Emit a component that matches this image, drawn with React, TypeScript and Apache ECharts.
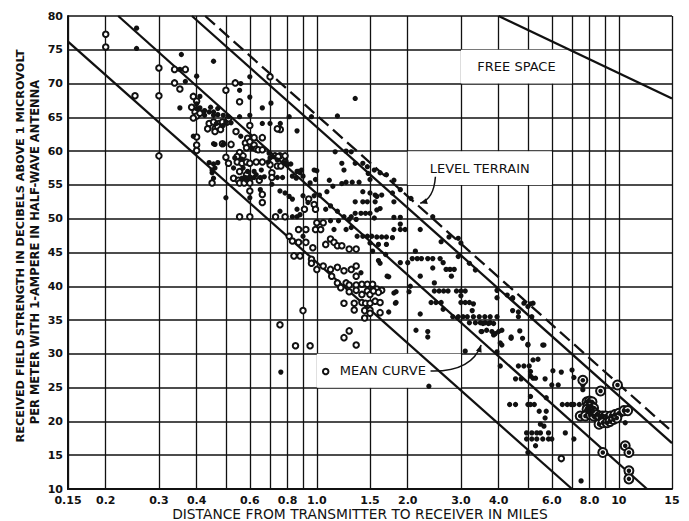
import React, { useEffect, useRef } from "react";
import * as echarts from "echarts";

// ---------- axes ----------
const xLabelValues = [0.15, 0.2, 0.3, 0.4, 0.6, 0.8, 1, 1.5, 2, 3, 4, 6, 8, 10, 15];
const xLabelTexts = ["0.15", "0.2", "0.3", "0.4", "0.6", "0.8", "1.0", "1.5", "2.0", "3.0", "4.0", "6.0", "8.0", "10", "15"];
const xGridValues = [0.15, 0.2, 0.3, 0.4, 0.5, 0.6, 0.7, 0.8, 0.9, 1, 1.5, 2, 3, 4, 5, 6, 7, 8, 9, 10, 15];
const yMin = 10;
const yMax = 80;
const yStep = 5;

// ---------- reference curves (miles, dB) ----------
const lowerCurve = [[0.15, 76.2], [7.0, 10]];
const meanCurve = [[0.22, 80], [12.4, 10]];
const upperCurve = [[0.386, 80], [15, 16.8]];
const levelTerrain = [[0.427, 80], [15, 18.5]];
const freeSpace = [[4.0, 80], [15, 67.8]];

// ---------- measured points (miles, dB) ----------
const openPoints = [
  [0.2, 77.3], [0.2, 75.4], [0.25, 68.2], [0.3, 72.3], [0.3, 68.2], [0.3, 59.3],
  [0.338, 72.1], [0.367, 72.1], [0.338, 70.1], [0.352, 69.2],
  [0.39, 68.1], [0.4, 67.4], [0.385, 66.5], [0.395, 65.8], [0.4, 65.2], [0.39, 64.9], [0.41, 65.6],
  [0.5, 69.0], [0.537, 70.1], [0.555, 67.3], [0.7, 71.0],
  [0.44, 64.1], [0.455, 64.3], [0.474, 64.1], [0.435, 63.3], [0.46, 63.3], [0.487, 64.3], [0.505, 64.3],
  [0.51, 64.8], [0.47, 63.6], [0.46, 62.9], [0.48, 63.2], [0.54, 62.9],
  [0.6, 63.8], [0.757, 63.2], [0.74, 63.3],
  [0.4, 62.1], [0.4, 60.9], [0.4, 60.1], [0.52, 61.0], [0.487, 61.1],
  [0.58, 61.2], [0.59, 61.9], [0.62, 62.0], [0.66, 62.0], [0.6, 61.4], [0.62, 60.9], [0.63, 60.3], [0.585, 60.5],
  [0.555, 59.8], [0.57, 59.3], [0.5, 59.1], [0.545, 59.2], [0.64, 60.2], [0.66, 60.2],
  [0.51, 58.2], [0.545, 58.4], [0.565, 58.2], [0.585, 58.4], [0.6, 58.2], [0.63, 58.4], [0.66, 58.4],
  [0.555, 57.0], [0.585, 56.5], [0.53, 56.0], [0.55, 55.7], [0.6, 56.0], [0.645, 55.7],
  [0.45, 55.3], [0.555, 55.3], [0.575, 55.3], [0.6, 55.3],
  [0.7, 58.0], [0.71, 56.8], [0.71, 56.1],
  [0.727, 59.3], [0.755, 59.3], [0.785, 59.3], [0.745, 59.2], [0.785, 58.4], [0.74, 57.8], [0.76, 57.8],
  [0.6, 54.1], [0.66, 53.6], [0.66, 52.4], [0.555, 50.3], [0.6, 50.3],
  [0.94, 52.9], [0.98, 52.1], [0.99, 51.4], [0.91, 51.4], [0.73, 50.3], [0.785, 50.3],
  [0.81, 47.4], [0.87, 48.4], [0.92, 48.4], [0.83, 46.7], [0.87, 46.5], [0.92, 46.5], [0.97, 45.7],
  [0.99, 48.4], [1.03, 48.4], [1.0, 49.4], [1.05, 49.4],
  [1.11, 47.0], [1.07, 46.2], [1.14, 46.5], [1.17, 46.0], [1.21, 46.0], [1.28, 45.5], [1.35, 45.5],
  [0.84, 44.5], [0.88, 44.5], [0.96, 44.0], [0.96, 43.4], [1.0, 42.5], [1.05, 43.0], [1.11, 42.5],
  [1.17, 42.8], [1.23, 42.3], [1.3, 42.5], [1.35, 43.0], [1.12, 41.5], [1.35, 41.5],
  [1.17, 40.5], [1.25, 40.5], [1.2, 39.8],
  [1.28, 40.2], [1.35, 40.2], [1.41, 40.3], [1.47, 40.3], [1.53, 40.3], [1.58, 39.6], [1.64, 39.4],
  [1.28, 39.2], [1.35, 39.4], [1.41, 38.8], [1.47, 39.3], [1.5, 38.8], [1.54, 39.3], [1.6, 39.1],
  [1.23, 37.5], [1.33, 37.5], [1.41, 37.6], [1.45, 37.5], [1.5, 37.5], [1.56, 37.8], [1.62, 37.6],
  [1.33, 36.5], [1.44, 36.4], [1.5, 36.5], [1.62, 36.1], [1.44, 35.3], [1.5, 36.0],
  [1.28, 33.4], [1.35, 31.3], [1.23, 32.4],
  [0.9, 36.4], [0.755, 34.3], [0.85, 31.2], [0.95, 31.2], [1.07, 27.4], [6.45, 14.5],
];

const solidPoints = [
  [0.253, 78.2], [0.253, 75.2], [0.356, 74.3], [0.352, 72.1], [0.455, 73.3], [0.367, 70.3], [0.4, 71.1],
  [0.56, 70.0], [0.555, 69.0], [0.6, 71.0], [0.6, 68.0], [0.66, 66.4], [0.705, 67.1], [0.352, 66.4], [0.41, 68.1],
  [0.4, 67.0], [0.4, 66.3], [0.41, 66.4], [0.425, 66.0], [0.44, 65.8], [0.455, 65.8], [0.47, 66.3],
  [0.425, 65.3], [0.455, 65.3], [0.47, 65.4], [0.445, 66.5], [0.49, 65.3], [0.51, 65.1], [0.555, 65.1], [0.6, 65.3],
  [0.81, 65.1], [0.96, 65.1], [1.17, 65.2], [1.34, 67.8],
  [0.465, 64.1], [0.49, 63.8], [0.5, 64.3], [0.52, 64.2], [0.66, 64.1], [0.7, 64.1], [0.757, 64.1], [0.86, 63.0],
  [0.39, 62.2], [0.46, 61.0], [0.49, 61.0], [0.455, 61.1], [0.56, 62.2], [0.61, 60.4], [0.695, 59.7],
  [0.44, 58.3], [0.455, 58.1], [0.47, 58.3], [0.46, 57.5], [0.45, 56.8], [0.455, 56.0], [0.45, 57.2],
  [0.535, 59.0], [0.565, 58.8], [0.53, 57.5], [0.57, 57.5], [0.59, 57.0], [0.62, 57.0], [0.655, 57.2],
  [0.565, 56.0], [0.585, 55.7], [0.63, 56.5], [0.58, 56.1], [0.6, 56.1], [0.62, 56.1], [0.65, 56.1], [0.67, 56.2],
  [0.69, 58.4], [0.715, 59.2], [0.74, 58.7], [0.7, 59.0], [0.8, 58.0], [0.785, 58.3], [0.82, 58.1],
  [0.74, 56.1], [0.77, 56.1], [0.71, 55.1],
  [0.86, 57.0], [0.88, 56.8], [0.9, 56.3], [0.83, 56.3], [0.855, 56.0], [0.87, 57.0], [0.89, 57.2],
  [0.98, 57.2], [1.0, 57.1], [1.1, 55.7], [0.95, 55.3], [0.99, 55.8],
  [1.15, 59.9], [1.25, 60.0], [1.3, 59.9], [1.21, 58.2], [1.34, 58.2], [1.42, 58.2], [1.47, 57.7], [1.23, 57.2],
  [1.55, 57.2], [1.62, 56.8], [1.7, 56.5], [1.8, 55.7], [1.48, 56.7], [1.5, 55.8],
  [1.21, 55.2], [1.25, 55.4], [1.31, 55.4], [1.38, 55.4],
  [1.42, 54.0], [1.5, 53.8], [1.42, 52.5], [1.47, 52.5], [1.56, 53.5], [1.64, 53.5], [1.56, 52.5],
  [1.78, 53.8], [1.8, 52.5], [1.89, 54.3], [2.05, 53.0], [1.34, 52.5], [1.58, 53.3],
  [1.58, 51.3], [1.55, 50.1], [1.8, 50.2], [1.89, 50.2], [1.34, 50.8], [1.4, 50.8], [1.45, 50.8], [1.5, 50.8],
  [1.23, 50.3], [1.3, 50.3], [1.62, 51.5],
  [1.07, 51.4], [1.11, 51.9], [1.17, 51.1], [1.02, 53.5], [1.08, 54.0], [1.13, 54.8],
  [0.5, 53.1], [0.6, 53.1], [0.65, 54.3],
  [0.755, 54.1], [0.785, 53.8], [0.81, 53.3], [0.83, 52.9], [0.9, 53.4], [0.935, 52.4], [0.98, 53.4],
  [0.86, 51.4], [0.88, 50.6], [0.83, 50.3], [0.86, 50.3], [0.755, 51.1],
  [1.11, 49.7], [1.18, 49.7], [1.14, 48.4], [1.25, 48.4], [1.3, 48.7], [1.28, 49.9], [1.35, 49.9], [0.9, 47.4],
  [1.36, 47.4], [1.42, 47.4], [1.47, 47.4], [1.52, 47.4], [1.58, 47.3], [1.64, 47.3], [1.7, 47.3], [1.78, 47.2],
  [1.8, 48.4], [1.89, 48.4], [1.96, 48.4], [1.89, 49.2], [2.2, 48.4], [2.42, 50.3],
  [1.5, 46.4], [1.6, 46.2], [1.7, 46.2], [1.53, 45.2], [1.69, 44.7], [1.6, 43.8], [2.12, 45.2],
  [2.07, 44.1], [2.15, 44.1], [2.22, 44.1], [2.33, 44.1], [2.42, 44.1], [2.56, 44.1],
  [1.89, 43.5], [2.0, 43.5], [2.62, 43.5], [2.68, 42.5], [2.76, 42.5], [2.85, 42.5], [2.42, 42.7],
  [1.71, 41.5], [2.2, 41.5], [2.45, 40.5], [2.79, 41.5], [1.62, 43.4], [1.73, 41.4], [1.4, 42.0],
  [2.74, 47.3], [2.94, 47.1], [3.0, 46.4], [2.58, 46.6],
  [2.94, 44.4], [3.2, 43.4], [3.35, 42.4], [3.95, 39.4], [4.27, 38.7], [4.45, 38.2], [4.65, 36.2],
  [5.0, 37.0], [5.2, 37.5], [5.15, 35.5],
  [1.8, 39.0], [1.83, 39.2], [1.82, 37.5], [1.73, 36.2], [2.02, 39.2], [2.04, 40.0],
  [2.45, 39.3], [2.54, 39.3], [2.63, 39.3], [2.72, 39.3], [2.9, 39.3], [3.0, 39.3], [3.1, 39.3], [3.0, 38.6],
  [2.39, 37.6], [2.48, 37.6], [2.58, 37.6], [3.0, 37.6], [3.1, 37.6], [3.2, 37.6], [3.3, 37.4], [3.27, 36.4],
  [2.62, 36.6], [1.83, 37.6], [2.2, 35.9],
  [2.82, 35.5], [2.94, 35.5], [3.05, 35.5], [3.15, 35.5], [3.3, 35.5], [3.45, 35.5], [3.6, 35.5], [3.75, 35.5], [3.95, 35.5],
  [3.2, 34.6], [3.35, 34.6], [3.48, 34.6], [3.61, 34.6], [3.75, 34.6],
  [3.52, 33.3], [3.8, 33.3], [4.4, 32.3], [4.8, 32.3], [5.0, 31.3], [5.6, 31.3], [4.1, 31.3], [3.1, 30.4],
  [2.13, 33.5], [2.33, 33.3], [2.33, 32.5], [2.35, 25.2], [0.76, 27.3],
  [3.95, 38.3], [4.45, 38.3], [4.85, 37.5], [5.1, 37.4], [4.45, 36.4], [4.65, 35.5],
  [3.55, 34.5], [3.7, 34.5], [3.85, 34.5], [3.5, 33.3], [3.65, 33.5], [3.9, 33.0], [4.0, 33.3], [4.1, 33.5], [3.85, 32.8],
  [4.4, 32.5], [4.7, 33.4], [4.05, 31.6], [5.0, 31.4], [5.65, 31.3], [3.95, 30.3], [5.4, 29.2], [5.2, 29.1],
  [4.05, 28.2], [4.65, 28.2], [4.85, 28.2], [5.05, 28.2], [5.1, 27.4], [5.1, 26.7], [5.2, 26.4],
  [6.05, 27.5], [6.45, 27.3], [7.0, 27.6], [4.55, 26.3], [4.75, 26.3], [5.3, 26.4], [5.7, 26.3], [6.0, 25.4], [6.3, 25.4],
  [7.6, 26.3], [7.6, 25.4], [7.6, 24.7], [7.1, 26.5],
  [5.1, 23.7], [5.0, 22.5], [5.1, 22.5], [5.25, 22.5], [5.75, 23.5], [4.35, 22.5], [4.55, 22.5],
  [5.45, 21.5], [5.75, 21.5], [5.7, 20.5], [5.5, 19.6], [5.65, 19.3],
  [6.5, 22.5], [6.75, 22.5], [6.95, 22.5], [7.1, 22.5], [7.4, 22.5], [7.7, 22.7],
  [4.95, 18.3], [5.15, 18.3], [5.35, 18.3], [5.5, 18.3], [5.85, 18.3],
  [4.95, 17.4], [5.15, 17.4], [5.35, 17.4], [5.6, 17.4], [5.85, 17.4],
  [5.3, 16.4], [6.65, 18.3], [6.0, 17.4], [7.1, 17.4], [5.0, 15.4], [7.5, 11.2], [10.0, 20.4], [10.5, 19.8],
  [7.4, 20.7], [7.8, 21.0],
];

const circledPoints = [
  [8.7, 24.5], [9.9, 25.4], [7.6, 26.1],
  [7.85, 22.9], [8.0, 23.0], [8.15, 22.9], [7.9, 22.3], [8.1, 22.3], [8.25, 22.0], [7.85, 21.8], [8.0, 21.6],
  [8.2, 21.5], [7.95, 21.3],
  [7.45, 20.8], [7.75, 20.8], [8.05, 21.0], [8.25, 20.8], [8.45, 21.0], [8.65, 20.8], [8.85, 20.8], [9.05, 20.8],
  [9.4, 20.8], [9.7, 21.0], [10.0, 21.2], [10.4, 21.6], [10.7, 21.6],
  [8.6, 19.6], [8.85, 19.8], [9.15, 19.8], [9.35, 20.0], [9.6, 20.3], [9.85, 20.5],
  [8.85, 15.4], [10.5, 16.4], [10.8, 15.4], [10.8, 12.7], [10.8, 11.5],
];

const FONT = "DejaVu Sans";
const INK = "#111111";

function nearestLabel(v: number): string {
  let best = 0;
  for (let i = 1; i < xLabelValues.length; i++) {
    if (Math.abs(Math.log(xLabelValues[i] / v)) < Math.abs(Math.log(xLabelValues[best] / v))) best = i;
  }
  return xLabelTexts[best];
}

function curveSeries(data: number[][], dashed = false) {
  return {
    type: "line",
    data,
    symbol: "none",
    clip: true,
    z: 3,
    silent: true,
    lineStyle: { color: INK, width: 2.3, type: dashed ? [13, 6] : "solid" },
  };
}

function box(text: string, x0: number, x1: number, y0: number, y1: number, dx = 0) {
  return [
    {
      xAxis: x0,
      yAxis: y1,
      label: { show: true, position: "inside", offset: [dx, 0], formatter: text },
    },
    { xAxis: x1, yAxis: y0 },
  ];
}

export default function App() {
  const ref = useRef<HTMLDivElement>(null);

  useEffect(() => {
    document.body.style.margin = "0";
    if (!ref.current) return;
    const chart = echarts.init(ref.current, null, { renderer: "svg" });

    const option: any = {
      animation: false,
      backgroundColor: "#ffffff",
      grid: { left: 68, right: 17, top: 16, bottom: 32, containLabel: false },
      xAxis: {
        type: "log",
        logBase: 10,
        min: 0.15,
        max: 15,
        axisLine: { show: true, lineStyle: { color: INK, width: 2 } },
        axisTick: { show: false, customValues: xGridValues },
        minorTick: { show: false },
        minorSplitLine: { show: false },
        axisLabel: {
          customValues: xLabelValues,
          formatter: (v: number) => nearestLabel(v),
          fontFamily: FONT,
          fontSize: 11,
          fontWeight: "bold",
          color: INK,
          margin: 6,
        },
        splitLine: { show: true, lineStyle: { color: INK, width: 1.3 } },
      },
      yAxis: {
        type: "value",
        min: yMin,
        max: yMax,
        interval: yStep,
        axisLine: { show: true, lineStyle: { color: INK, width: 2 } },
        axisTick: { show: false },
        axisLabel: { fontFamily: FONT, fontSize: 11, fontWeight: "bold", color: INK, margin: 5 },
        splitLine: { show: true, lineStyle: { color: INK, width: 1.5 } },
      },
      series: [
        {
          type: "scatter",
          data: [],
          z: 1,
          silent: true,
          markArea: {
            silent: true,
            itemStyle: { color: "#ffffff", opacity: 1, borderWidth: 0 },
            label: { color: INK, fontFamily: FONT, fontSize: 13 },
            data: [
              box("FREE SPACE", 3, 7, 70, 75),
              box("LEVEL TERRAIN", 2, 6, 55, 60),
              box("MEAN CURVE", 1, 3, 25, 30, -6),
            ],
          },
        },
        curveSeries(lowerCurve),
        curveSeries(meanCurve),
        curveSeries(upperCurve),
        curveSeries(levelTerrain, true),
        curveSeries(freeSpace),
        {
          type: "scatter",
          data: openPoints,
          symbol: "emptyCircle",
          symbolSize: 5.5,
          z: 4,
          silent: true,
          itemStyle: { color: INK, borderColor: INK, borderWidth: 1.1, opacity: 1 },
        },
        {
          type: "scatter",
          data: solidPoints,
          symbol: "circle",
          symbolSize: 5.3,
          z: 4,
          silent: true,
          itemStyle: { color: INK, opacity: 1 },
        },
        {
          type: "scatter",
          data: circledPoints,
          symbol: "emptyCircle",
          symbolSize: 9,
          z: 5,
          silent: true,
          itemStyle: { color: INK, borderColor: INK, borderWidth: 1.1, opacity: 1 },
        },
        {
          type: "scatter",
          data: circledPoints,
          symbol: "circle",
          symbolSize: 4.5,
          z: 6,
          silent: true,
          itemStyle: { color: INK, opacity: 1 },
        },
      ],
    };
    chart.setOption(option);

    const px = (p: number[]) => chart.convertToPixel({ gridIndex: 0 }, p) as number[];
    const arrow = (s: number[], c: number[], e: number[]) => {
      const S = px(s), C = px(c), E = px(e);
      const dx = E[0] - C[0], dy = E[1] - C[1];
      const L = Math.hypot(dx, dy) || 1;
      const ux = dx / L, uy = dy / L;
      const bx = E[0] - ux * 7, by = E[1] - uy * 7;
      return [
        {
          type: "bezierCurve",
          silent: true,
          z: 10,
          shape: { x1: S[0], y1: S[1], x2: E[0], y2: E[1], cpx1: C[0], cpy1: C[1] },
          style: { stroke: INK, lineWidth: 1.5, fill: null },
        },
        {
          type: "polygon",
          silent: true,
          z: 10,
          shape: {
            points: [
              [E[0], E[1]],
              [bx - uy * 3, by + ux * 3],
              [bx + uy * 3, by - ux * 3],
            ],
          },
          style: { fill: INK },
        },
      ];
    };

    const textStyle = (text: string, font: string) => ({
      text,
      fill: INK,
      font,
      textAlign: "center",
      textVerticalAlign: "middle",
      align: "center",
      verticalAlign: "middle",
    });

    chart.setOption({
      graphic: [
        ...arrow([2.38, 27.45], [3.25, 27.3], [3.5, 31.3]),
        ...arrow([2.47, 56.2], [2.44, 52.9], [2.2, 52.3]),
        {
          type: "text",
          x: 20,
          y: 246,
          rotation: Math.PI / 2,
          silent: true,
          style: textStyle("RECEIVED FIELD STRENGTH IN DECIBELS ABOVE 1 MICROVOLT", `bold 11.3px "${FONT}"`),
        },
        {
          type: "text",
          x: 35,
          y: 252,
          rotation: Math.PI / 2,
          silent: true,
          style: textStyle("PER METER WITH 1-AMPERE IN HALF-WAVE ANTENNA", `bold 11.5px "${FONT}"`),
        },
        {
          type: "text",
          x: 360,
          y: 514,
          silent: true,
          style: textStyle("DISTANCE FROM TRANSMITTER TO RECEIVER IN MILES", `13.8px "${FONT}"`),
        },
      ],
    });

    return () => chart.dispose();
  }, []);

  return (
    <div
      ref={ref}
      style={{ position: "absolute", left: 0, top: 0, width: 689, height: 521, background: "#fff" }}
    />
  );
}
